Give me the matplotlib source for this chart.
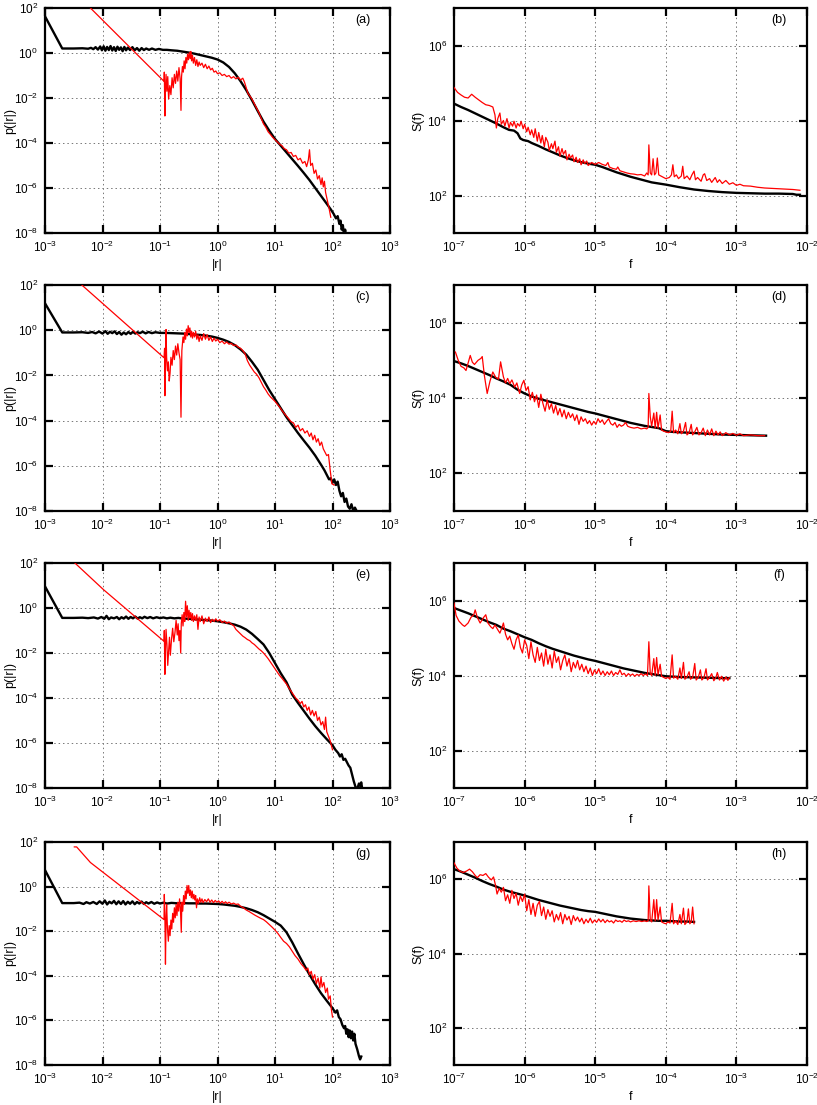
import numpy as np
import matplotlib
matplotlib.use("Agg")
import matplotlib.pyplot as plt
from matplotlib.ticker import NullLocator

plt.rcParams["font.family"] = ["Liberation Sans", "DejaVu Sans"]

# all curves stored as (log10 x, log10 y) pairs

# (a)
a_blk = [(-3.00, 1.63), (-2.70, 0.20), (-2.50, 0.20), (-2.35, 0.21), (-2.25, 0.19), (-2.20, 0.23), (-2.16, 0.17),
         (-2.12, 0.26), (-2.08, 0.15), (-2.04, 0.29), (-2.01, 0.12), (-1.98, 0.30), (-1.95, 0.10), (-1.92, 0.27),
         (-1.89, 0.13), (-1.86, 0.31), (-1.83, 0.11), (-1.80, 0.26), (-1.77, 0.09), (-1.74, 0.28), (-1.71, 0.14),
         (-1.68, 0.25), (-1.65, 0.08), (-1.62, 0.27), (-1.59, 0.12), (-1.56, 0.24), (-1.52, 0.13), (-1.48, 0.26),
         (-1.44, 0.12), (-1.40, 0.22), (-1.36, 0.10), (-1.32, 0.22), (-1.28, 0.13), (-1.24, 0.20), (-1.19, 0.14),
         (-1.14, 0.20), (-1.08, 0.14), (-1.02, 0.18), (-0.95, 0.14), (-0.88, 0.14), (-0.80, 0.12), (-0.70, 0.10),
         (-0.60, 0.06), (-0.50, 0.02), (-0.40, -0.03), (-0.30, -0.09), (-0.20, -0.15), (-0.10, -0.21), (0.00, -0.29),
         (0.10, -0.42), (0.20, -0.62), (0.30, -0.90), (0.40, -1.25), (0.50, -1.65), (0.60, -2.10), (0.70, -2.58),
         (0.80, -3.05), (0.90, -3.45), (1.00, -3.82), (1.10, -4.12), (1.20, -4.42), (1.30, -4.72), (1.40, -5.02),
         (1.50, -5.33), (1.60, -5.65), (1.70, -6.00), (1.80, -6.35), (1.90, -6.70), (1.97, -6.95), (2.02, -7.15),
         (2.06, -7.35), (2.09, -7.25), (2.12, -7.60), (2.14, -7.45), (2.16, -7.85), (2.18, -7.65), (2.20, -8.10),
         (2.22, -7.85), (2.24, -8.20)]
a_red = [(-2.21, 2.00), (-0.93, -1.26), (-0.925, -0.85), (-0.915, -2.80), (-0.905, -1.60), (-0.895, -0.95),
         (-0.88, -1.70), (-0.865, -1.05), (-0.85, -2.05), (-0.83, -1.45), (-0.81, -1.85), (-0.79, -1.10),
         (-0.77, -1.55), (-0.75, -0.95), (-0.73, -1.35), (-0.71, -0.80), (-0.69, -1.25), (-0.67, -0.65),
         (-0.65, -1.15), (-0.635, -2.55), (-0.625, -1.05), (-0.61, -0.60), (-0.595, -0.85), (-0.58, -0.35),
         (-0.565, -0.70), (-0.55, -0.20), (-0.535, -0.45), (-0.52, -0.05), (-0.505, -0.30), (-0.49, 0.02),
         (-0.475, -0.25), (-0.465, 0.07), (-0.45, -0.35), (-0.435, -0.10), (-0.42, -0.45), (-0.40, -0.20),
         (-0.38, -0.55), (-0.36, -0.30), (-0.34, -0.60), (-0.32, -0.40), (-0.30, -0.55), (-0.27, -0.45),
         (-0.24, -0.65), (-0.21, -0.50), (-0.18, -0.70), (-0.15, -0.58), (-0.12, -0.75), (-0.09, -0.68),
         (-0.06, -0.85), (-0.03, -0.80), (0.00, -0.92), (0.04, -0.88), (0.08, -1.00), (0.12, -0.95), (0.16, -1.05),
         (0.20, -1.00), (0.24, -1.12), (0.28, -1.05), (0.32, -1.15), (0.36, -1.08), (0.40, -1.20), (0.44, -1.12),
         (0.47, -1.30), (0.50, -1.55), (0.53, -1.80), (0.56, -1.90), (0.60, -2.05), (0.64, -2.25), (0.68, -2.45),
         (0.72, -2.65), (0.76, -2.90), (0.80, -3.15), (0.84, -3.30), (0.88, -3.50), (0.92, -3.62), (0.96, -3.75),
         (1.00, -3.85), (1.04, -3.95), (1.08, -4.05), (1.12, -4.12), (1.16, -4.25), (1.20, -4.30), (1.24, -4.45),
         (1.28, -4.42), (1.32, -4.60), (1.36, -4.55), (1.40, -4.75), (1.44, -4.68), (1.48, -4.90), (1.52, -4.82),
         (1.55, -5.05), (1.58, -4.75), (1.60, -4.30), (1.62, -5.00), (1.65, -4.90), (1.68, -5.35), (1.71, -5.20),
         (1.74, -5.60), (1.77, -5.45), (1.80, -5.85), (1.82, -5.55), (1.84, -5.95), (1.86, -5.70), (1.88, -6.20),
         (1.91, -6.55), (1.94, -6.90), (1.97, -7.30)]

# (b)
b_blk = [(-7.00, 4.45), (-6.90, 4.36), (-6.80, 4.28), (-6.70, 4.19), (-6.60, 4.10), (-6.50, 4.01), (-6.40, 3.92),
         (-6.30, 3.82), (-6.22, 3.75), (-6.15, 3.73), (-6.10, 3.66), (-6.06, 3.52), (-6.02, 3.48), (-5.95, 3.45),
         (-5.90, 3.40), (-5.80, 3.32), (-5.70, 3.23), (-5.60, 3.15), (-5.50, 3.07), (-5.40, 3.00), (-5.30, 2.94),
         (-5.20, 2.89), (-5.10, 2.85), (-5.00, 2.82), (-4.90, 2.76), (-4.80, 2.69), (-4.70, 2.62), (-4.60, 2.56),
         (-4.50, 2.50), (-4.40, 2.45), (-4.30, 2.40), (-4.20, 2.35), (-4.10, 2.32), (-4.00, 2.29), (-3.80, 2.22),
         (-3.60, 2.16), (-3.40, 2.12), (-3.20, 2.09), (-3.00, 2.07), (-2.80, 2.06), (-2.60, 2.05), (-2.40, 2.05),
         (-2.20, 2.04), (-2.15, 2.02), (-2.10, 2.02)]
b_red = [(-7.00, 4.88), (-6.95, 4.75), (-6.90, 4.68), (-6.85, 4.62), (-6.80, 4.60), (-6.75, 4.70), (-6.70, 4.62),
         (-6.65, 4.55), (-6.60, 4.48), (-6.55, 4.42), (-6.50, 4.40), (-6.45, 4.36), (-6.42, 4.15), (-6.40, 3.80),
         (-6.38, 4.05), (-6.35, 4.20), (-6.33, 3.90), (-6.30, 4.00), (-6.28, 3.85), (-6.25, 4.05), (-6.22, 3.80),
         (-6.20, 3.95), (-6.17, 3.85), (-6.15, 3.98), (-6.12, 3.80), (-6.10, 3.92), (-6.07, 3.85), (-6.05, 3.98),
         (-6.02, 3.78), (-6.00, 3.90), (-5.97, 3.70), (-5.95, 3.82), (-5.92, 3.62), (-5.90, 3.75), (-5.87, 3.55),
         (-5.85, 3.78), (-5.82, 3.45), (-5.80, 3.68), (-5.77, 3.40), (-5.75, 3.60), (-5.72, 3.30), (-5.70, 3.55),
         (-5.67, 3.42), (-5.65, 3.20), (-5.62, 3.38), (-5.60, 3.25), (-5.57, 3.45), (-5.55, 3.15), (-5.52, 3.30),
         (-5.50, 3.05), (-5.47, 3.25), (-5.45, 3.10), (-5.42, 3.20), (-5.40, 2.95), (-5.37, 3.10), (-5.35, 3.00),
         (-5.32, 3.08), (-5.30, 2.90), (-5.27, 3.02), (-5.25, 2.88), (-5.22, 2.98), (-5.20, 2.82), (-5.17, 2.95),
         (-5.15, 2.85), (-5.12, 2.92), (-5.10, 2.80), (-5.05, 2.88), (-5.00, 2.83), (-4.95, 2.88), (-4.90, 2.83),
         (-4.85, 2.80), (-4.82, 2.88), (-4.80, 2.76), (-4.75, 2.72), (-4.70, 2.70), (-4.68, 2.76), (-4.65, 2.66),
         (-4.60, 2.63), (-4.55, 2.60), (-4.50, 2.58), (-4.45, 2.57), (-4.40, 2.55), (-4.35, 2.56), (-4.30, 2.52),
         (-4.27, 2.60), (-4.25, 2.55), (-4.24, 3.35), (-4.22, 2.60), (-4.20, 2.55), (-4.18, 2.98), (-4.16, 2.55),
         (-4.14, 2.60), (-4.12, 3.00), (-4.10, 2.55), (-4.05, 2.50), (-4.00, 2.45), (-3.95, 2.48), (-3.92, 2.55),
         (-3.90, 2.82), (-3.88, 2.50), (-3.85, 2.55), (-3.82, 2.45), (-3.78, 2.52), (-3.76, 2.78), (-3.74, 2.45),
         (-3.70, 2.52), (-3.66, 2.42), (-3.63, 2.55), (-3.60, 2.65), (-3.58, 2.42), (-3.55, 2.48), (-3.50, 2.38),
         (-3.47, 2.55), (-3.45, 2.58), (-3.42, 2.40), (-3.38, 2.45), (-3.35, 2.35), (-3.30, 2.48), (-3.27, 2.35),
         (-3.24, 2.42), (-3.20, 2.32), (-3.15, 2.40), (-3.10, 2.30), (-3.05, 2.34), (-3.00, 2.27), (-2.95, 2.30),
         (-2.90, 2.26), (-2.80, 2.25), (-2.70, 2.22), (-2.60, 2.20), (-2.50, 2.19), (-2.40, 2.18), (-2.30, 2.17),
         (-2.20, 2.16), (-2.10, 2.14)]

# (c)
c_blk = [(-3.00, 1.19), (-2.70, -0.10), (-2.50, -0.10), (-2.35, -0.09), (-2.25, -0.12), (-2.18, -0.08),
         (-2.12, -0.14), (-2.06, -0.06), (-2.00, -0.15), (-1.95, -0.04), (-1.91, -0.16), (-1.87, -0.07),
         (-1.83, -0.13), (-1.79, -0.05), (-1.75, -0.17), (-1.71, -0.08), (-1.67, -0.20), (-1.63, -0.10),
         (-1.59, -0.18), (-1.55, -0.08), (-1.51, -0.16), (-1.47, -0.07), (-1.43, -0.15), (-1.39, -0.09),
         (-1.35, -0.13), (-1.30, -0.07), (-1.25, -0.14), (-1.20, -0.08), (-1.14, -0.13), (-1.08, -0.09),
         (-1.00, -0.12), (-0.90, -0.12), (-0.80, -0.13), (-0.70, -0.14), (-0.60, -0.15), (-0.50, -0.17),
         (-0.40, -0.19), (-0.30, -0.21), (-0.20, -0.24), (-0.10, -0.28), (0.00, -0.34), (0.10, -0.42), (0.20, -0.52),
         (0.30, -0.66), (0.40, -0.85), (0.50, -1.08), (0.60, -1.40), (0.70, -1.75), (0.80, -2.20), (0.90, -2.65),
         (1.00, -3.05), (1.10, -3.45), (1.20, -3.85), (1.30, -4.20), (1.40, -4.55), (1.50, -4.88), (1.60, -5.20),
         (1.70, -5.55), (1.80, -5.95), (1.86, -6.20), (1.90, -6.40), (1.94, -6.60), (1.97, -6.55), (2.00, -6.75),
         (2.03, -6.60), (2.06, -6.85), (2.09, -6.70), (2.12, -7.10), (2.15, -7.35), (2.18, -7.20), (2.21, -7.60),
         (2.24, -7.45), (2.27, -7.80), (2.30, -7.90), (2.33, -7.70), (2.36, -8.00), (2.39, -7.85), (2.42, -8.00)]
c_red = [(-2.36, 2.00), (-0.93, -1.22), (-0.92, -0.80), (-0.915, -2.90), (-0.905, -1.70), (-0.895, 0.03),
         (-0.885, -1.20), (-0.87, -1.80), (-0.855, -1.40), (-0.84, -2.25), (-0.825, -1.90), (-0.81, -1.20),
         (-0.79, -1.55), (-0.77, -0.90), (-0.75, -1.30), (-0.73, -0.70), (-0.71, -1.10), (-0.69, -0.60),
         (-0.67, -1.00), (-0.65, -1.30), (-0.635, -3.85), (-0.62, -0.90), (-0.60, -0.30), (-0.585, -0.55),
         (-0.57, -0.10), (-0.555, -0.40), (-0.54, 0.05), (-0.525, -0.25), (-0.51, 0.20), (-0.495, -0.10),
         (-0.48, 0.10), (-0.465, -0.30), (-0.45, -0.05), (-0.435, -0.35), (-0.42, -0.10), (-0.40, -0.30),
         (-0.38, -0.05), (-0.36, -0.40), (-0.34, -0.20), (-0.32, -0.50), (-0.30, -0.25), (-0.27, -0.45),
         (-0.24, -0.15), (-0.21, -0.40), (-0.18, -0.20), (-0.15, -0.45), (-0.12, -0.30), (-0.09, -0.50),
         (-0.06, -0.35), (-0.03, -0.48), (0.00, -0.40), (0.04, -0.55), (0.08, -0.48), (0.12, -0.60), (0.16, -0.52),
         (0.20, -0.62), (0.24, -0.58), (0.28, -0.68), (0.32, -0.65), (0.36, -0.75), (0.40, -0.80), (0.44, -0.90),
         (0.48, -1.05), (0.52, -1.35), (0.56, -1.55), (0.60, -1.70), (0.64, -1.85), (0.68, -1.95), (0.72, -2.10),
         (0.76, -2.30), (0.80, -2.50), (0.84, -2.65), (0.88, -2.82), (0.92, -2.95), (0.96, -3.05), (1.00, -3.15),
         (1.04, -3.28), (1.08, -3.40), (1.12, -3.55), (1.16, -3.68), (1.20, -3.80), (1.24, -3.92), (1.28, -4.05),
         (1.32, -4.10), (1.36, -4.30), (1.40, -4.20), (1.44, -4.45), (1.48, -4.35), (1.52, -4.55), (1.56, -4.45),
         (1.60, -4.70), (1.63, -4.55), (1.66, -4.85), (1.69, -4.65), (1.72, -4.95), (1.75, -4.80), (1.78, -5.10),
         (1.81, -4.95), (1.84, -5.25), (1.87, -5.40), (1.90, -5.55), (1.93, -5.50), (1.96, -6.20), (1.99, -6.80),
         (2.03, -6.85)]

# (d)
d_blk = [(-7.00, 4.98), (-6.90, 4.92), (-6.80, 4.85), (-6.70, 4.77), (-6.60, 4.69), (-6.50, 4.61), (-6.40, 4.52),
         (-6.30, 4.44), (-6.20, 4.35), (-6.10, 4.22), (-6.00, 4.12), (-5.90, 4.04), (-5.80, 3.98), (-5.70, 3.93),
         (-5.60, 3.88), (-5.50, 3.83), (-5.40, 3.78), (-5.30, 3.73), (-5.20, 3.68), (-5.10, 3.63), (-5.00, 3.59),
         (-4.90, 3.54), (-4.80, 3.49), (-4.70, 3.44), (-4.60, 3.39), (-4.50, 3.34), (-4.40, 3.30), (-4.30, 3.26),
         (-4.20, 3.23), (-4.10, 3.20), (-4.00, 3.12), (-3.90, 3.10), (-3.80, 3.09), (-3.60, 3.07), (-3.40, 3.05),
         (-3.20, 3.03), (-3.00, 3.02), (-2.80, 3.01), (-2.58, 3.00)]
d_red = [(-6.98, 5.22), (-6.94, 5.00), (-6.90, 4.84), (-6.86, 4.80), (-6.83, 4.73), (-6.77, 5.13), (-6.74, 4.95),
         (-6.71, 4.89), (-6.66, 5.00), (-6.62, 5.05), (-6.60, 5.10), (-6.57, 4.60), (-6.53, 4.12), (-6.49, 4.45),
         (-6.45, 4.69), (-6.41, 4.55), (-6.37, 4.50), (-6.34, 4.96), (-6.30, 4.56), (-6.27, 4.40), (-6.24, 4.52),
         (-6.21, 4.38), (-6.18, 4.48), (-6.14, 4.29), (-6.11, 4.40), (-6.07, 4.12), (-6.04, 4.35), (-6.01, 4.47),
         (-5.98, 4.20), (-5.95, 4.30), (-5.92, 3.95), (-5.89, 4.15), (-5.86, 3.90), (-5.83, 4.08), (-5.80, 3.75),
         (-5.77, 4.10), (-5.74, 3.85), (-5.71, 3.65), (-5.68, 3.95), (-5.65, 3.70), (-5.62, 3.85), (-5.59, 3.60),
         (-5.56, 3.80), (-5.53, 3.55), (-5.50, 3.72), (-5.47, 3.50), (-5.44, 3.68), (-5.41, 3.45), (-5.38, 3.62),
         (-5.35, 3.48), (-5.32, 3.58), (-5.29, 3.40), (-5.26, 3.55), (-5.23, 3.30), (-5.20, 3.50), (-5.17, 3.38),
         (-5.14, 3.45), (-5.11, 3.32), (-5.08, 3.40), (-5.05, 3.28), (-5.02, 3.38), (-4.99, 3.30), (-4.96, 3.45),
         (-4.93, 3.35), (-4.90, 3.42), (-4.87, 3.30), (-4.84, 3.38), (-4.81, 3.45), (-4.78, 3.32), (-4.75, 3.28),
         (-4.72, 3.35), (-4.69, 3.22), (-4.66, 3.30), (-4.63, 3.25), (-4.60, 3.28), (-4.57, 3.35), (-4.54, 3.25),
         (-4.50, 3.22), (-4.45, 3.20), (-4.40, 3.22), (-4.35, 3.18), (-4.30, 3.20), (-4.27, 3.18), (-4.25, 3.22),
         (-4.24, 4.12), (-4.22, 3.50), (-4.20, 3.25), (-4.17, 3.60), (-4.15, 3.20), (-4.13, 3.62), (-4.11, 3.20),
         (-4.08, 3.55), (-4.06, 3.15), (-4.03, 3.12), (-4.00, 3.10), (-3.96, 3.08), (-3.93, 3.12), (-3.91, 3.65),
         (-3.89, 3.08), (-3.86, 3.15), (-3.83, 3.05), (-3.80, 3.32), (-3.78, 3.05), (-3.75, 3.12), (-3.72, 3.35),
         (-3.70, 3.02), (-3.67, 3.08), (-3.64, 3.30), (-3.62, 3.02), (-3.59, 3.10), (-3.56, 3.22), (-3.53, 3.02),
         (-3.50, 3.08), (-3.47, 3.20), (-3.44, 3.00), (-3.41, 3.15), (-3.38, 3.02), (-3.35, 3.18), (-3.32, 3.00),
         (-3.29, 3.12), (-3.26, 3.02), (-3.23, 3.10), (-3.20, 3.00), (-3.15, 3.08), (-3.10, 3.02), (-3.05, 3.06),
         (-3.00, 3.01), (-2.95, 3.05), (-2.90, 3.00), (-2.80, 3.02), (-2.70, 3.00), (-2.60, 3.00)]

# (e)
e_blk = [(-3.00, 0.96), (-2.70, -0.44), (-2.50, -0.44), (-2.35, -0.43), (-2.25, -0.45), (-2.15, -0.42),
         (-2.08, -0.47), (-2.02, -0.40), (-1.97, -0.48), (-1.93, -0.35), (-1.89, -0.50), (-1.85, -0.42),
         (-1.80, -0.46), (-1.75, -0.40), (-1.71, -0.50), (-1.67, -0.41), (-1.63, -0.47), (-1.59, -0.38),
         (-1.55, -0.48), (-1.51, -0.40), (-1.47, -0.46), (-1.43, -0.38), (-1.39, -0.47), (-1.35, -0.41),
         (-1.31, -0.46), (-1.27, -0.39), (-1.22, -0.45), (-1.17, -0.40), (-1.12, -0.46), (-1.06, -0.41),
         (-1.00, -0.45), (-0.94, -0.42), (-0.88, -0.46), (-0.82, -0.43), (-0.75, -0.46), (-0.68, -0.44),
         (-0.60, -0.47), (-0.50, -0.48), (-0.40, -0.50), (-0.30, -0.52), (-0.20, -0.54), (-0.10, -0.56),
         (0.00, -0.59), (0.10, -0.63), (0.20, -0.68), (0.30, -0.74), (0.40, -0.83), (0.50, -0.96), (0.60, -1.15),
         (0.70, -1.38), (0.80, -1.62), (0.90, -2.00), (1.00, -2.45), (1.10, -2.90), (1.20, -3.30), (1.30, -3.85),
         (1.40, -4.22), (1.50, -4.57), (1.60, -4.92), (1.70, -5.25), (1.80, -5.55), (1.90, -5.83), (2.00, -6.10),
         (2.05, -6.30), (2.10, -6.45), (2.13, -6.60), (2.16, -6.50), (2.19, -6.75), (2.22, -6.70), (2.25, -6.85),
         (2.28, -7.00), (2.31, -7.10), (2.34, -7.40), (2.37, -7.70), (2.40, -7.95), (2.43, -8.05), (2.46, -7.80),
         (2.48, -7.90), (2.50, -7.75), (2.52, -8.10)]
e_red = [(-2.48, 2.00), (-1.98, 0.81), (-0.93, -1.48), (-0.925, -1.00), (-0.915, -2.95), (-0.905, -1.80),
         (-0.895, -0.95), (-0.88, -1.60), (-0.865, -2.55), (-0.85, -1.90), (-0.835, -1.30), (-0.82, -2.10),
         (-0.80, -1.40), (-0.78, -0.90), (-0.76, -1.50), (-0.74, -1.10), (-0.72, -0.55), (-0.70, -1.20),
         (-0.685, -0.70), (-0.67, -1.45), (-0.655, -1.00), (-0.64, -2.00), (-0.63, -0.70), (-0.615, -0.30),
         (-0.60, -0.80), (-0.585, -0.20), (-0.57, -0.60), (-0.555, 0.30), (-0.54, -0.40), (-0.525, 0.10),
         (-0.51, -0.55), (-0.495, -0.10), (-0.48, -0.45), (-0.465, -0.20), (-0.45, -0.55), (-0.435, -0.25),
         (-0.42, -0.60), (-0.40, -0.35), (-0.38, -0.55), (-0.36, -0.30), (-0.34, -0.95), (-0.32, -0.40),
         (-0.30, -0.60), (-0.27, -0.35), (-0.24, -0.70), (-0.21, -0.45), (-0.18, -0.60), (-0.15, -0.40),
         (-0.12, -0.65), (-0.09, -0.50), (-0.06, -0.60), (-0.03, -0.48), (0.00, -0.58), (0.04, -0.52),
         (0.08, -0.65), (0.12, -0.58), (0.16, -0.68), (0.20, -0.62), (0.24, -0.72), (0.28, -0.78), (0.32, -0.95),
         (0.36, -1.05), (0.40, -1.15), (0.44, -1.25), (0.48, -1.32), (0.52, -1.40), (0.56, -1.45), (0.60, -1.55),
         (0.64, -1.62), (0.68, -1.72), (0.72, -1.82), (0.76, -1.90), (0.80, -2.00), (0.84, -2.12), (0.88, -2.25),
         (0.92, -2.40), (0.96, -2.55), (1.00, -2.70), (1.04, -2.85), (1.08, -3.00), (1.12, -3.12), (1.16, -3.25),
         (1.20, -3.38), (1.24, -3.55), (1.28, -3.70), (1.32, -3.85), (1.36, -4.00), (1.40, -4.10), (1.44, -4.25),
         (1.47, -4.15), (1.50, -4.40), (1.53, -4.30), (1.56, -4.55), (1.59, -4.40), (1.62, -4.75), (1.65, -4.55),
         (1.68, -4.80), (1.71, -4.60), (1.74, -5.00), (1.77, -4.85), (1.80, -5.20), (1.83, -5.05), (1.86, -5.40),
         (1.88, -4.85), (1.90, -5.50), (1.93, -5.70), (1.96, -5.90), (2.00, -6.30)]

# (f)
f_blk = [(-7.00, 5.80), (-6.90, 5.73), (-6.80, 5.66), (-6.70, 5.58), (-6.60, 5.50), (-6.50, 5.42), (-6.40, 5.35),
         (-6.30, 5.25), (-6.20, 5.18), (-6.10, 5.10), (-6.00, 5.02), (-5.90, 4.95), (-5.80, 4.86), (-5.70, 4.78),
         (-5.60, 4.71), (-5.50, 4.65), (-5.40, 4.59), (-5.30, 4.53), (-5.20, 4.48), (-5.10, 4.43), (-5.00, 4.39),
         (-4.90, 4.34), (-4.80, 4.29), (-4.70, 4.24), (-4.60, 4.19), (-4.50, 4.15), (-4.40, 4.11), (-4.30, 4.07),
         (-4.20, 4.04), (-4.10, 4.01), (-4.00, 3.98), (-3.90, 3.97), (-3.80, 3.96), (-3.60, 3.95), (-3.40, 3.94),
         (-3.20, 3.93), (-3.10, 3.93)]
f_red = [(-7.00, 5.93), (-6.97, 5.60), (-6.93, 5.45), (-6.88, 5.35), (-6.85, 5.31), (-6.80, 5.40), (-6.76, 5.55),
         (-6.72, 5.62), (-6.70, 5.75), (-6.67, 5.55), (-6.63, 5.40), (-6.58, 5.55), (-6.55, 5.62), (-6.52, 5.40),
         (-6.48, 5.30), (-6.45, 5.25), (-6.42, 5.35), (-6.38, 5.22), (-6.35, 5.13), (-6.32, 5.28), (-6.30, 5.40),
         (-6.27, 5.10), (-6.24, 4.95), (-6.21, 5.05), (-6.18, 4.85), (-6.15, 4.70), (-6.12, 4.95), (-6.09, 5.08),
         (-6.06, 4.75), (-6.03, 4.60), (-6.00, 4.95), (-5.97, 4.80), (-5.94, 4.45), (-5.91, 4.90), (-5.88, 4.55),
         (-5.85, 4.35), (-5.82, 4.75), (-5.79, 4.40), (-5.76, 4.60), (-5.73, 4.25), (-5.70, 4.70), (-5.67, 4.30),
         (-5.64, 4.55), (-5.61, 4.20), (-5.58, 4.65), (-5.55, 4.35), (-5.52, 4.50), (-5.49, 4.15), (-5.46, 4.40),
         (-5.43, 4.55), (-5.40, 4.25), (-5.37, 4.45), (-5.34, 4.10), (-5.31, 4.35), (-5.28, 4.20), (-5.25, 4.40),
         (-5.22, 4.15), (-5.19, 4.30), (-5.16, 4.10), (-5.13, 4.25), (-5.10, 4.05), (-5.07, 4.20), (-5.04, 4.00),
         (-5.01, 4.15), (-4.98, 4.05), (-4.95, 4.18), (-4.92, 4.02), (-4.89, 4.12), (-4.86, 4.00), (-4.83, 4.10),
         (-4.80, 4.02), (-4.77, 4.12), (-4.74, 4.00), (-4.71, 4.08), (-4.68, 4.03), (-4.65, 4.15), (-4.62, 4.02),
         (-4.59, 4.06), (-4.56, 3.98), (-4.53, 4.05), (-4.50, 4.00), (-4.47, 4.04), (-4.44, 3.98), (-4.41, 4.03),
         (-4.38, 4.00), (-4.35, 4.05), (-4.32, 4.00), (-4.29, 4.04), (-4.26, 4.00), (-4.24, 4.90), (-4.22, 4.05),
         (-4.20, 4.00), (-4.17, 4.45), (-4.15, 4.00), (-4.13, 4.48), (-4.11, 4.02), (-4.08, 4.30), (-4.06, 3.98),
         (-4.03, 3.95), (-4.00, 3.92), (-3.97, 3.95), (-3.94, 3.90), (-3.91, 4.55), (-3.89, 3.93), (-3.86, 3.97),
         (-3.83, 3.90), (-3.80, 4.20), (-3.78, 3.92), (-3.75, 4.35), (-3.73, 3.90), (-3.70, 3.96), (-3.67, 4.10),
         (-3.65, 3.90), (-3.62, 3.95), (-3.59, 4.32), (-3.57, 3.88), (-3.54, 3.95), (-3.51, 4.15), (-3.49, 3.88),
         (-3.46, 3.94), (-3.43, 4.18), (-3.41, 3.88), (-3.38, 3.95), (-3.35, 4.05), (-3.32, 3.86), (-3.29, 3.95),
         (-3.27, 4.08), (-3.24, 3.88), (-3.21, 3.98), (-3.18, 3.85), (-3.15, 3.96), (-3.12, 3.87), (-3.10, 3.95)]

# (g)
g_blk = [(-3.00, 0.74), (-2.70, -0.74), (-2.50, -0.74), (-2.40, -0.72), (-2.33, -0.78), (-2.28, -0.70),
         (-2.22, -0.76), (-2.16, -0.69), (-2.10, -0.78), (-2.05, -0.66), (-2.00, -0.77), (-1.96, -0.62),
         (-1.92, -0.80), (-1.88, -0.68), (-1.84, -0.75), (-1.80, -0.64), (-1.76, -0.79), (-1.72, -0.66),
         (-1.68, -0.78), (-1.64, -0.65), (-1.60, -0.80), (-1.56, -0.68), (-1.52, -0.77), (-1.48, -0.66),
         (-1.44, -0.79), (-1.40, -0.69), (-1.36, -0.76), (-1.32, -0.67), (-1.28, -0.78), (-1.24, -0.70),
         (-1.20, -0.76), (-1.15, -0.69), (-1.10, -0.77), (-1.05, -0.71), (-1.00, -0.76), (-0.94, -0.72),
         (-0.88, -0.76), (-0.80, -0.73), (-0.70, -0.75), (-0.60, -0.74), (-0.50, -0.75), (-0.40, -0.75),
         (-0.30, -0.76), (-0.20, -0.76), (-0.10, -0.77), (0.00, -0.78), (0.10, -0.80), (0.20, -0.83), (0.30, -0.86),
         (0.40, -0.91), (0.50, -0.97), (0.60, -1.05), (0.70, -1.15), (0.80, -1.28), (0.90, -1.43), (1.00, -1.58),
         (1.10, -1.75), (1.20, -2.05), (1.30, -2.50), (1.40, -3.00), (1.50, -3.48), (1.60, -3.95), (1.70, -4.38),
         (1.80, -4.78), (1.90, -5.12), (2.00, -5.45), (2.05, -5.65), (2.08, -5.55), (2.11, -5.85), (2.14, -5.95),
         (2.17, -6.20), (2.20, -6.35), (2.22, -6.25), (2.24, -6.60), (2.26, -6.40), (2.28, -6.75), (2.30, -6.45),
         (2.32, -6.80), (2.34, -6.50), (2.36, -6.90), (2.38, -6.60), (2.40, -7.05), (2.43, -7.30), (2.46, -7.60),
         (2.48, -7.75), (2.50, -7.62)]
g_red = [(-2.49, 1.78), (-2.45, 1.78), (-2.21, 1.08), (-0.93, -1.48), (-0.925, -0.35), (-0.915, -1.30),
         (-0.905, -3.48), (-0.895, -1.60), (-0.885, -0.80), (-0.87, -1.90), (-0.855, -2.45), (-0.84, -1.75),
         (-0.825, -2.20), (-0.81, -1.50), (-0.795, -1.90), (-0.78, -1.20), (-0.765, -1.60), (-0.75, -0.95),
         (-0.735, -1.40), (-0.72, -0.80), (-0.705, -1.30), (-0.69, -0.70), (-0.675, -1.10), (-0.66, -0.55),
         (-0.645, -0.95), (-0.63, -2.05), (-0.62, -0.70), (-0.605, -1.10), (-0.59, -0.40), (-0.575, -0.80),
         (-0.56, -0.20), (-0.545, -0.55), (-0.53, 0.05), (-0.515, -0.30), (-0.50, 0.05), (-0.485, -0.40),
         (-0.47, -0.15), (-0.455, -0.50), (-0.44, -0.20), (-0.425, -0.55), (-0.41, -0.35), (-0.395, -0.60),
         (-0.38, -0.40), (-0.365, -0.95), (-0.35, -0.55), (-0.33, -0.75), (-0.31, -0.50), (-0.29, -0.70),
         (-0.27, -0.55), (-0.25, -0.72), (-0.22, -0.58), (-0.19, -0.68), (-0.16, -0.55), (-0.13, -0.70),
         (-0.10, -0.60), (-0.07, -0.72), (-0.04, -0.62), (-0.01, -0.70), (0.02, -0.64), (0.05, -0.74),
         (0.08, -0.66), (0.11, -0.75), (0.14, -0.68), (0.17, -0.76), (0.20, -0.70), (0.24, -0.78), (0.28, -0.74),
         (0.32, -0.80), (0.36, -0.78), (0.40, -0.88), (0.45, -0.95), (0.50, -1.05), (0.55, -1.12), (0.60, -1.20),
         (0.65, -1.28), (0.70, -1.35), (0.75, -1.42), (0.80, -1.48), (0.85, -1.58), (0.90, -1.70), (0.95, -1.82),
         (1.00, -1.95), (1.05, -2.10), (1.10, -2.28), (1.15, -2.45), (1.20, -2.55), (1.25, -2.70), (1.30, -2.90),
         (1.35, -3.10), (1.40, -3.25), (1.45, -3.45), (1.50, -3.60), (1.54, -3.75), (1.57, -3.65), (1.60, -3.95),
         (1.63, -3.80), (1.66, -4.15), (1.69, -3.95), (1.72, -4.35), (1.75, -4.10), (1.78, -4.55), (1.80, -4.05),
         (1.82, -4.50), (1.85, -4.30), (1.88, -4.75), (1.91, -4.55), (1.93, -5.05), (1.96, -4.90), (1.98, -5.50),
         (2.00, -5.85)]

# (h)
h_blk = [(-7.00, 6.27), (-6.90, 6.20), (-6.80, 6.12), (-6.70, 6.04), (-6.60, 5.95), (-6.50, 5.87), (-6.40, 5.80),
         (-6.30, 5.72), (-6.20, 5.66), (-6.10, 5.61), (-6.00, 5.56), (-5.90, 5.50), (-5.80, 5.44), (-5.70, 5.39),
         (-5.60, 5.34), (-5.50, 5.29), (-5.40, 5.25), (-5.30, 5.21), (-5.20, 5.17), (-5.10, 5.14), (-5.00, 5.12),
         (-4.90, 5.08), (-4.80, 5.04), (-4.70, 5.00), (-4.60, 4.97), (-4.50, 4.94), (-4.40, 4.92), (-4.30, 4.90),
         (-4.20, 4.89), (-4.10, 4.88), (-4.00, 4.88), (-3.90, 4.87), (-3.80, 4.86), (-3.70, 4.86), (-3.60, 4.85)]
h_red = [(-7.00, 6.44), (-6.96, 6.30), (-6.92, 6.22), (-6.87, 6.18), (-6.82, 6.22), (-6.78, 6.27), (-6.74, 6.20),
         (-6.70, 6.10), (-6.67, 6.04), (-6.63, 6.12), (-6.59, 6.10), (-6.55, 6.15), (-6.51, 6.05), (-6.47, 5.98),
         (-6.44, 6.06), (-6.41, 5.82), (-6.39, 5.60), (-6.36, 5.75), (-6.33, 5.65), (-6.30, 5.78), (-6.27, 5.42),
         (-6.24, 5.58), (-6.21, 5.35), (-6.18, 5.70), (-6.15, 5.48), (-6.12, 5.62), (-6.09, 5.30), (-6.06, 5.55),
         (-6.03, 5.40), (-6.00, 5.60), (-5.97, 5.15), (-5.94, 5.45), (-5.91, 5.05), (-5.88, 5.35), (-5.85, 5.00),
         (-5.82, 5.30), (-5.79, 5.40), (-5.76, 5.02), (-5.73, 5.25), (-5.70, 4.92), (-5.67, 5.18), (-5.64, 5.00),
         (-5.61, 5.15), (-5.58, 4.85), (-5.55, 5.05), (-5.52, 4.90), (-5.49, 5.10), (-5.46, 4.80), (-5.43, 5.05),
         (-5.40, 4.90), (-5.37, 5.00), (-5.34, 4.78), (-5.31, 5.02), (-5.28, 4.88), (-5.25, 4.98), (-5.22, 4.85),
         (-5.19, 4.95), (-5.16, 4.80), (-5.13, 4.92), (-5.10, 4.83), (-5.07, 4.95), (-5.04, 4.82), (-5.01, 4.90),
         (-4.98, 4.84), (-4.95, 4.93), (-4.92, 4.85), (-4.89, 4.92), (-4.86, 4.83), (-4.83, 4.90), (-4.80, 4.85),
         (-4.77, 4.88), (-4.74, 4.82), (-4.71, 4.90), (-4.68, 4.86), (-4.65, 4.88), (-4.62, 4.84), (-4.59, 4.90),
         (-4.56, 4.86), (-4.53, 4.88), (-4.50, 4.85), (-4.46, 4.88), (-4.42, 4.86), (-4.38, 4.88), (-4.34, 4.86),
         (-4.30, 4.88), (-4.27, 4.86), (-4.25, 4.88), (-4.24, 5.82), (-4.22, 4.90), (-4.20, 4.85), (-4.17, 5.45),
         (-4.15, 4.88), (-4.13, 5.45), (-4.11, 4.90), (-4.08, 5.25), (-4.06, 4.85), (-4.03, 4.82), (-4.00, 4.80),
         (-3.97, 4.85), (-3.94, 4.82), (-3.91, 5.35), (-3.89, 4.80), (-3.86, 4.88), (-3.83, 4.78), (-3.80, 5.05),
         (-3.78, 4.80), (-3.75, 5.22), (-3.73, 4.78), (-3.70, 4.85), (-3.68, 5.20), (-3.66, 4.80), (-3.64, 4.85),
         (-3.62, 5.25), (-3.60, 4.80)]

r_ticks = [-3, -2, -1, 0, 1, 2, 3]
p_ticks = [-8, -6, -4, -2, 0, 2]
f_ticks = [-7, -6, -5, -4, -3, -2]
s_ticks = [2, 4, 6]

left_panels = [("(a)", a_blk, a_red), ("(c)", c_blk, c_red), ("(e)", e_blk, e_red), ("(g)", g_blk, g_red)]
right_panels = [("(b)", b_blk, b_red), ("(d)", d_blk, d_red), ("(f)", f_blk, f_red), ("(h)", h_blk, h_red)]

W, H = 817, 1105
rows_px = [(8, 233), (285, 511), (563, 788), (842, 1065)]


def exp_labels(exps):
    return [r"$\mathdefault{10^{%d}}$" % e for e in exps]


def style(ax, xt, yt):
    ax.set_xscale("log")
    ax.set_yscale("log")
    ax.set_xticks([10.0 ** e for e in xt])
    ax.set_xticklabels(exp_labels(xt))
    ax.set_yticks([10.0 ** e for e in yt])
    ax.set_yticklabels(exp_labels(yt))
    ax.xaxis.set_minor_locator(NullLocator())
    ax.yaxis.set_minor_locator(NullLocator())
    ax.set_xlim(10.0 ** xt[0], 10.0 ** xt[-1])
    ax.tick_params(which="major", direction="in", length=5.5, width=1.6, top=True, right=True,
                   labelsize=8.5, pad=5)
    for s in ax.spines.values():
        s.set_linewidth(1.6)
    ax.grid(True, color="#777777", linestyle=(0, (1.5, 3)), linewidth=0.7)
    ax.set_axisbelow(True)


def draw(ax, blk, red):
    bx, by = zip(*blk)
    rx, ry = zip(*red)
    ax.plot(10.0 ** np.array(bx), 10.0 ** np.array(by), color="black", lw=1.7, zorder=3)
    ax.plot(10.0 ** np.array(rx), 10.0 ** np.array(ry), color="#ff0000", lw=0.9, zorder=4)


fig = plt.figure(figsize=(W / 100, H / 100), dpi=100)

for i, (top, bot) in enumerate(rows_px):
    b = 1 - bot / H
    h = (bot - top) / H

    tag, blk, red = left_panels[i]
    ax = fig.add_axes([45 / W, b, 345 / W, h])
    draw(ax, blk, red)
    style(ax, r_ticks, p_ticks)
    ax.set_ylim(1e-8, 1e2)
    ax.set_xlabel("|r|", fontsize=9, labelpad=3)
    ax.set_ylabel("p(|r|)", fontsize=9)
    ax.yaxis.set_label_coords(-0.084, 0.5)
    ax.text(0.92, 0.945, tag, transform=ax.transAxes, ha="center", va="center", fontsize=9)

    tag, blk, red = right_panels[i]
    ax = fig.add_axes([454 / W, b, 353 / W, h])
    draw(ax, blk, red)
    style(ax, f_ticks, s_ticks)
    ax.set_ylim(1e1, 1e7)
    ax.set_xlabel("f", fontsize=9, labelpad=3)
    ax.set_ylabel("S(f)", fontsize=9)
    ax.yaxis.set_label_coords(-0.085, 0.5)
    ax.text(0.92, 0.945, tag, transform=ax.transAxes, ha="center", va="center", fontsize=9)

fig.savefig("out.png", dpi=100, facecolor="white")
